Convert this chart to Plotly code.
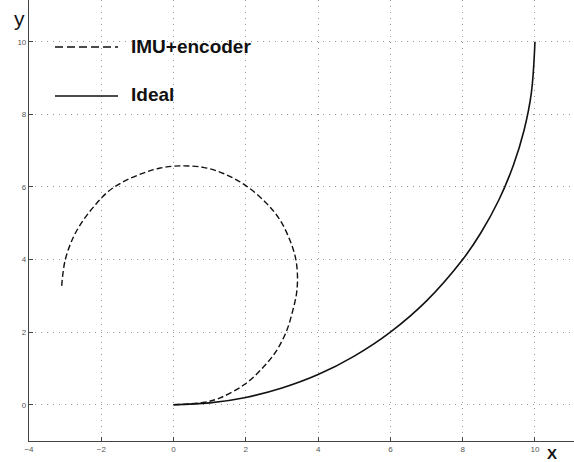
import plotly.graph_objects as go

# Ideal trajectory (quarter arc from origin to (10, 10))
ideal_x = [0.0, 1.0, 2.0, 3.0, 4.0, 5.0, 6.0, 7.0, 8.0, 8.5, 9.0, 9.4, 9.7, 9.9, 10.0]
ideal_y = [0.0, 0.05, 0.2, 0.46, 0.83, 1.34, 2.0, 2.86, 4.0, 4.73, 5.64, 6.59, 7.57, 8.59, 10.0]

# Trajectory estimated from IMU + wheel encoder
imu_x = [0.0, 0.82, 1.29, 1.98, 2.48, 2.85, 3.13, 3.30, 3.40, 3.43, 3.38, 3.22, 2.95, 2.58,
         1.98, 1.38, 0.82, 0.18, -0.37, -0.84, -1.36, -1.80, -2.17, -2.50, -2.77,
         -3.00, -3.10]
imu_y = [0.0, 0.06, 0.19, 0.57, 1.03, 1.49, 2.04, 2.60, 3.05, 3.50, 4.02, 4.53, 5.08, 5.54,
         6.05, 6.37, 6.54, 6.58, 6.52, 6.38, 6.16, 5.88, 5.50, 5.08, 4.62,
         3.98, 3.22]

x_ticks = [-4, -2, 0, 2, 4, 6, 8, 10]
y_ticks = [0, 2, 4, 6, 8, 10]

fig = go.Figure()
fig.add_trace(go.Scatter(
    x=imu_x, y=imu_y, mode="lines", name="IMU+encoder",
    line=dict(color="#111", width=1.4, dash="6px,3px", shape="spline", smoothing=1.0),
))
fig.add_trace(go.Scatter(
    x=ideal_x, y=ideal_y, mode="lines", name="Ideal",
    line=dict(color="#111", width=1.6, shape="spline"),
))

axis_common = dict(
    showgrid=True, gridcolor="#9a9a9a", gridwidth=1, griddash="1px,5px",
    zeroline=False, showline=True, linecolor="#444", linewidth=1.2,
    ticks="inside", ticklen=4, tickcolor="#444",
    tickfont=dict(family="Liberation Sans, Arial", size=8, color="#555"),
)

fig.update_xaxes(range=[-4, 11.08], tickvals=x_ticks, **axis_common)
fig.update_yaxes(range=[-1.0, 11.15], tickvals=y_ticks, **axis_common)

# Legend drawn inside the axes, top-left
legend_font = dict(family="Liberation Sans, Arial", size=19, color="#111")
fig.add_shape(type="line", xref="paper", yref="paper",
              x0=(55 - 29) / 545, x1=(118 - 29) / 545, y0=1 - 47 / 441, y1=1 - 47 / 441,
              line=dict(color="#111", width=1.4, dash="8px,4px"))
fig.add_shape(type="line", xref="paper", yref="paper",
              x0=(55 - 29) / 545, x1=(118 - 29) / 545, y0=1 - 96 / 441, y1=1 - 96 / 441,
              line=dict(color="#111", width=1.6))
fig.add_annotation(text="<b>IMU+encoder</b>", xref="paper", yref="paper",
                   x=(129 - 29) / 545, y=1 - 47 / 441, xanchor="left", yanchor="middle",
                   showarrow=False, font=legend_font)
fig.add_annotation(text="<b>Ideal</b>", xref="paper", yref="paper",
                   x=(129 - 29) / 545, y=1 - 95 / 441, xanchor="left", yanchor="middle",
                   showarrow=False, font=legend_font)

# Axis names
fig.add_annotation(text="y", xref="paper", yref="paper",
                   x=(19.5 - 29) / 545, y=1 - 18 / 441, xanchor="center", yanchor="middle",
                   showarrow=False, font=dict(family="Liberation Sans, Arial", size=21, color="#111"))
fig.add_annotation(text="<b>X</b>", xref="paper", yref="paper",
                   x=(552 - 29) / 545, y=1 - 453 / 441, xanchor="center", yanchor="middle",
                   showarrow=False, font=dict(family="Liberation Sans, Arial", size=15, color="#111"))

fig.update_layout(
    width=574, height=462,
    margin=dict(l=29, r=0, t=0, b=21),
    paper_bgcolor="white", plot_bgcolor="white",
    showlegend=False,
)

fig.write_html("out.html")
